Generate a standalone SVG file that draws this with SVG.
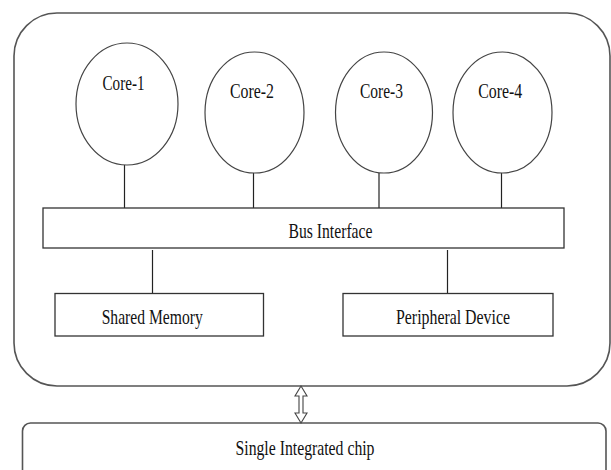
<svg xmlns="http://www.w3.org/2000/svg" width="611" height="470" viewBox="0 0 611 470">
<style>
.box{fill:#fff;stroke:#333;stroke-width:1.3}
.outer{fill:#fff;stroke:#555;stroke-width:1.6}
.core{fill:#fff;stroke:#444;stroke-width:1.2}
.conn{stroke:#222;stroke-width:1.2;fill:none}
text{font-family:"Liberation Serif","Times New Roman",serif;font-size:21px;fill:#111;text-anchor:middle}
</style>
<rect width="611" height="470" fill="#fff"/>
<g id="chip">
<rect class="outer" x="14" y="13" width="596" height="373" rx="43" ry="43"/>
</g>
<g id="single-chip">
<rect class="outer" x="22.5" y="423" width="583.5" height="70" rx="8" ry="8"/>
<text x="305" y="455" textLength="139" lengthAdjust="spacingAndGlyphs">Single Integrated chip</text>
</g>
<g id="connectors">
<line class="conn" x1="124.5" y1="165" x2="124.5" y2="208"/>
<line class="conn" x1="253.5" y1="173" x2="253.5" y2="208"/>
<line class="conn" x1="379" y1="173" x2="379" y2="208"/>
<line class="conn" x1="501.5" y1="173" x2="501.5" y2="208"/>
<line class="conn" x1="152.5" y1="250" x2="152.5" y2="293"/>
<line class="conn" x1="447.5" y1="250" x2="447.5" y2="293"/>
<polygon points="301,386 295,396 299,396 299,413 295,413 301,423 307,413 303,413 303,396 307,396" fill="#fff" stroke="#444" stroke-width="1.1"/>
</g>
<g id="core1">
<ellipse class="core" cx="127" cy="104" rx="51" ry="61"/>
<text x="123.5" y="90" textLength="42" lengthAdjust="spacingAndGlyphs">Core-1</text>
</g>
<g id="core2">
<ellipse class="core" cx="254.5" cy="112.5" rx="49.5" ry="60.5"/>
<text x="252" y="98" textLength="44" lengthAdjust="spacingAndGlyphs">Core-2</text>
</g>
<g id="core3">
<ellipse class="core" cx="384" cy="112.5" rx="48.5" ry="60.5"/>
<text x="381.5" y="98" textLength="43" lengthAdjust="spacingAndGlyphs">Core-3</text>
</g>
<g id="core4">
<ellipse class="core" cx="502.5" cy="112.5" rx="49.5" ry="60.5"/>
<text x="500.3" y="98" textLength="44" lengthAdjust="spacingAndGlyphs">Core-4</text>
</g>
<g id="bus">
<rect class="box" x="43" y="208" width="521" height="40"/>
<text x="330.5" y="238" textLength="84" lengthAdjust="spacingAndGlyphs">Bus Interface</text>
</g>
<g id="shared-memory">
<rect class="box" x="55" y="293.5" width="208.5" height="42.5"/>
<text x="152.2" y="323.5" textLength="101" lengthAdjust="spacingAndGlyphs">Shared Memory</text>
</g>
<g id="peripheral">
<rect class="box" x="343" y="293.5" width="210" height="42.5"/>
<text x="453" y="323.5" textLength="114" lengthAdjust="spacingAndGlyphs">Peripheral Device</text>
</g>
</svg>
